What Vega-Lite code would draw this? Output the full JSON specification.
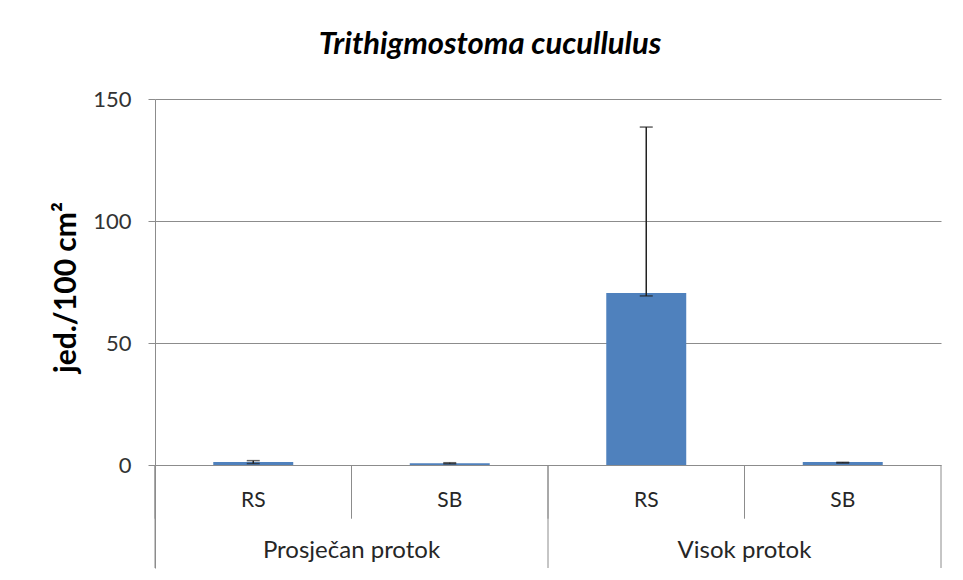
{
  "$schema": "https://vega.github.io/schema/vega-lite/v6.json",
  "width": 786,
  "height": 469,
  "autosize": {"type": "none"},
  "padding": {"left": 155, "top": 99, "right": 22, "bottom": 12},
  "background": "white",
  "config": {
    "view": {"stroke": null},
    "font": "Lato"
  },
  "title": {
    "text": "Trithigmostoma cucullulus",
    "font": "Lato",
    "fontSize": 31,
    "fontStyle": "italic",
    "fontWeight": "bold",
    "color": "#000000",
    "anchor": "middle",
    "frame": "group",
    "baseline": "alphabetic",
    "dx": -58,
    "offset": 3
  },
  "data": {
    "values": [
      {"key": "Prosječan protok|RS", "group": "Prosječan protok", "site": "RS", "mean": 1.2, "lo": 0.6, "hi": 1.8},
      {"key": "Prosječan protok|SB", "group": "Prosječan protok", "site": "SB", "mean": 0.7, "lo": 0.5, "hi": 0.95},
      {"key": "Visok protok|RS", "group": "Visok protok", "site": "RS", "mean": 70.5, "lo": 69.3, "hi": 138.5},
      {"key": "Visok protok|SB", "group": "Visok protok", "site": "SB", "mean": 1.2, "lo": 0.8, "hi": 1.1}
    ]
  },
  "encoding": {
    "x": {
      "field": "key",
      "type": "nominal",
      "sort": null,
      "scale": {"paddingInner": 0, "paddingOuter": 0},
      "axis": null
    }
  },
  "layer": [
    {
      "mark": {"type": "bar", "color": "#4F81BD", "width": {"band": 0.407}},
      "encoding": {
        "y": {
          "field": "mean",
          "type": "quantitative",
          "title": "jed./100 cm²",
          "scale": {"domain": [-42.2, 150], "nice": false, "zero": false},
          "axis": {
            "values": [0, 50, 100, 150],
            "grid": true,
            "gridColor": "#8c8c8c",
            "gridWidth": 1,
            "domainColor": "#8c8c8c",
            "tickColor": "#8c8c8c",
            "tickSize": 7,
            "labelFont": "Lato",
            "labelFontSize": 22,
            "labelColor": "#333333",
            "labelPadding": 17,
            "titleFont": "Lato",
            "titleFontSize": 30,
            "titleFontWeight": "bold",
            "titleColor": "#000000",
            "titleAngle": -90,
            "titleX": -89,
            "titleY": 188,
            "titleAlign": "center",
            "titleBaseline": "middle"
          }
        },
        "y2": {"datum": 0}
      }
    },
    {
      "mark": {"type": "rule", "color": "#8c8c8c", "strokeWidth": 1},
      "encoding": {
        "x": {"field": "key", "type": "nominal", "sort": null, "bandPosition": 0},
        "y": {"datum": 0, "title": "jed./100 cm²"},
        "y2": {"datum": -22}
      }
    },
    {
      "transform": [{"filter": "datum.site === 'RS'"}],
      "mark": {"type": "rule", "color": "#8c8c8c", "strokeWidth": 1},
      "encoding": {
        "x": {"field": "key", "type": "nominal", "sort": null, "bandPosition": 0},
        "y": {"datum": 0, "title": "jed./100 cm²"},
        "y2": {"datum": -42.2}
      }
    },
    {
      "transform": [{"filter": "datum.key === 'Visok protok|SB'"}],
      "mark": {"type": "rule", "color": "#8c8c8c", "strokeWidth": 1},
      "encoding": {
        "x": {"field": "key", "type": "nominal", "sort": null, "bandPosition": 1},
        "y": {"datum": 0, "title": "jed./100 cm²"},
        "y2": {"datum": -42.2}
      }
    },
    {
      "mark": {"type": "text", "font": "Lato", "fontSize": 21, "color": "#262626", "baseline": "middle", "align": "center"},
      "encoding": {
        "text": {"field": "site"},
        "y": {"datum": -14.8, "title": "jed./100 cm²"}
      }
    },
    {
      "transform": [{"filter": "datum.site === 'SB'"}],
      "mark": {"type": "text", "font": "Lato", "fontSize": 24, "color": "#262626", "baseline": "middle", "align": "center"},
      "encoding": {
        "x": {"field": "key", "type": "nominal", "sort": null, "bandPosition": 0},
        "text": {"field": "group"},
        "y": {"datum": -35.2, "title": "jed./100 cm²"}
      }
    },
    {
      "mark": {"type": "rule", "color": "#222222", "strokeWidth": 1.5},
      "encoding": {
        "y": {"field": "lo", "type": "quantitative", "title": "jed./100 cm²"},
        "y2": {"field": "hi"}
      }
    },
    {
      "mark": {"type": "tick", "color": "#222222", "thickness": 1.5, "size": 13, "orient": "horizontal"},
      "encoding": {
        "y": {"field": "hi", "type": "quantitative", "title": "jed./100 cm²"}
      }
    },
    {
      "mark": {"type": "tick", "color": "#222222", "thickness": 1.5, "size": 13, "orient": "horizontal"},
      "encoding": {
        "y": {"field": "lo", "type": "quantitative", "title": "jed./100 cm²"}
      }
    }
  ]
}
